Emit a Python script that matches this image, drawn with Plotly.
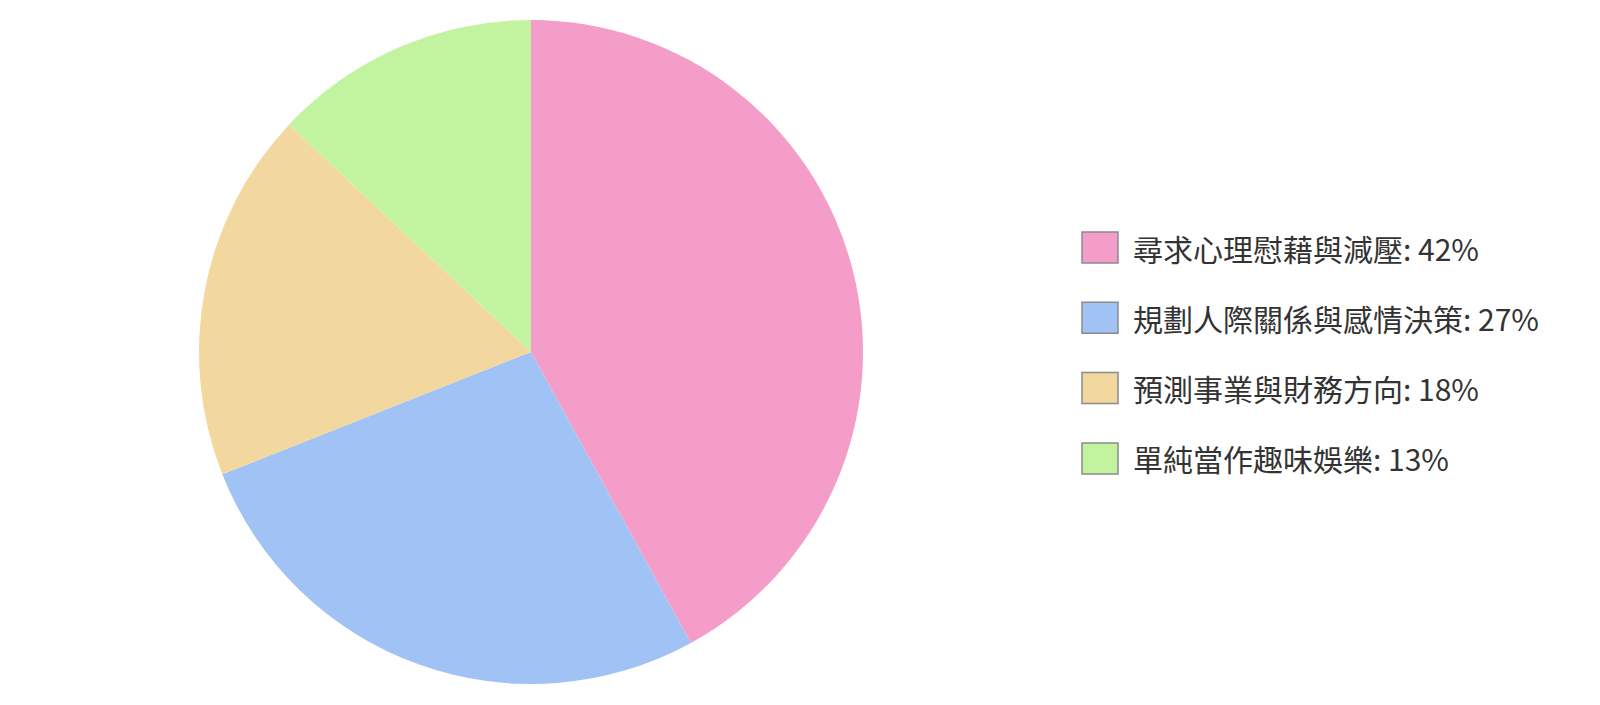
import plotly.graph_objects as go

labels = ["尋求心理慰藉與減壓", "規劃人際關係與感情決策", "預測事業與財務方向", "單純當作趣味娛樂"]
values = [42, 27, 18, 13]
colors = ["#F39DC8", "#A0C2F4", "#F2D89E", "#C2F4A0"]

W, H = 1600, 705
off = 8  # page body margin
cx, cy, r = 531 - off, 352 - off, 332

fig = go.Figure(go.Pie(
    labels=labels, values=values, sort=False, direction="clockwise", rotation=0,
    marker=dict(colors=colors, line=dict(width=0)),
    textinfo="none", showlegend=False,
    domain=dict(x=[(cx - r) / W, (cx + r) / W], y=[(H - cy - r) / H, (H - cy + r) / H]),
))

shapes, annotations = [], []
row0, step = 247.5 - off, 70.3
for i, (lab, val, col) in enumerate(zip(labels, values, colors)):
    yc = row0 + i * step
    shapes.append(dict(type="rect", xref="paper", yref="paper",
                       x0=(1082 - off) / W, x1=(1118 - off) / W,
                       y0=1 - (yc - 15.5) / H, y1=1 - (yc + 15.5) / H,
                       fillcolor=col, line=dict(color="#8a8a8a", width=1.5)))
    annotations.append(dict(xref="paper", yref="paper", x=(1131 - off) / W, y=1 - yc / H,
                            xanchor="left", yanchor="middle", showarrow=False,
                            text=f"{lab}: {val}%",
                            font=dict(family="Noto Sans CJK TC", size=30, color="#333333")))

fig.update_layout(width=W, height=H, margin=dict(l=0, r=0, t=0, b=0),
                  paper_bgcolor="white", plot_bgcolor="white",
                  shapes=shapes, annotations=annotations,
                  font=dict(family="Noto Sans CJK TC"))
fig.write_html("out.html")
